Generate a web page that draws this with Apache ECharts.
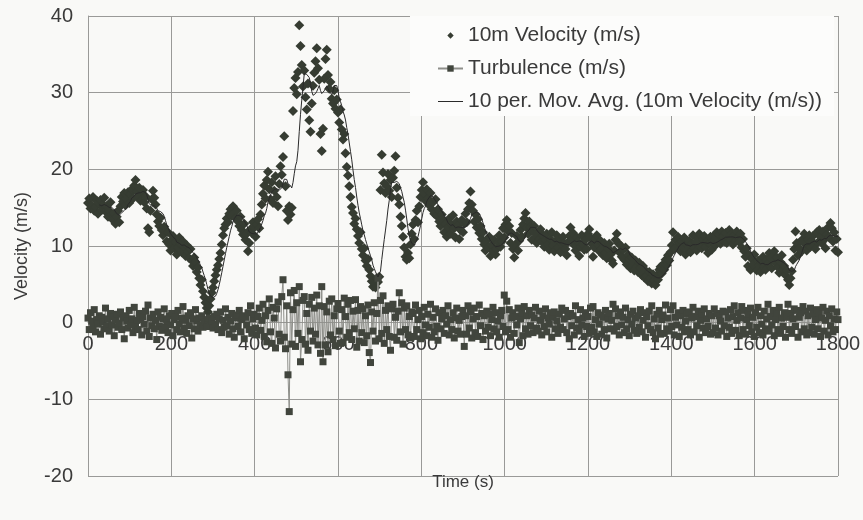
<!DOCTYPE html>
<html>
<head>
<meta charset="utf-8">
<script src="https://cdn.jsdelivr.net/npm/echarts@6/dist/echarts.min.js"></script>
<style>
html,body{margin:0;padding:0;background:#f9f9f7;}
#chart{width:863px;height:520px;}
</style>
</head>
<body>
<div id="chart"></div>
<script>
// Sample times (s), one reading every 3 s from 0 to 1800
const startTime = 0, endTime = 1800, sampleStep = 3;

// 10m Velocity (m/s) (one row = 60 s)
const velocity = [
15.6,16.2,14.9,15.3,16.4,14.6,15.1,15.9,14.2,15.5,16.0,14.7,15.4,16.3,14.5,15.2,13.8,14.6,15.7,14.1,
13.4,14.2,12.9,13.8,14.6,13.1,15.2,16.4,15.8,16.9,15.3,16.1,17.0,15.6,16.8,17.4,16.2,17.9,18.6,17.1,
16.4,17.6,15.9,16.8,17.3,15.7,16.5,14.9,12.3,11.8,14.6,16.1,17.2,16.3,15.4,14.1,13.2,12.6,13.7,12.1,
11.4,12.5,11.9,10.6,11.8,10.2,9.4,10.8,11.3,9.7,10.5,8.9,9.8,11.1,10.3,9.2,10.6,9.9,8.7,10.1,
9.3,8.4,9.6,8.1,7.4,8.5,7.9,6.6,7.2,5.8,4.9,5.6,4.1,3.3,2.6,1.9,1.4,2.2,3.1,3.9,
4.6,5.4,6.2,6.9,7.5,8.3,9.1,10.2,11.4,12.3,12.8,13.6,13.1,14.2,14.8,13.9,15.2,14.4,13.7,14.6,
13.2,12.6,13.8,12.1,11.5,12.9,10.8,11.6,9.3,10.4,12.2,11.7,13.1,12.4,11.2,12.8,13.5,12.3,14.1,15.4,
16.8,17.9,16.2,18.6,19.7,17.4,16.1,18.3,15.6,17.2,19.1,16.4,15.2,18.1,20.4,19.3,21.6,24.3,17.8,14.6,
13.4,15.2,14.1,15.0,27.6,30.6,31.9,29.8,32.7,38.8,36.1,33.6,30.8,32.9,29.4,27.8,31.2,26.4,24.9,28.6,
30.9,32.6,34.1,35.8,33.2,31.7,24.6,22.4,25.3,31.8,34.4,35.6,32.3,30.5,31.4,29.2,28.6,30.3,27.9,29.1,
27.4,26.1,27.8,25.2,23.9,24.6,22.1,20.3,19.2,17.8,16.4,15.1,14.3,12.9,13.6,12.2,11.3,10.4,11.8,9.6,
8.8,9.7,8.1,7.4,8.3,6.9,6.1,5.4,4.7,5.2,4.6,5.8,5.3,6.0,17.3,21.9,19.6,18.2,16.9,17.8,
19.4,17.2,18.6,16.4,18.9,19.8,21.7,17.6,16.3,15.4,13.8,12.6,11.2,9.8,8.6,8.2,9.1,8.4,10.2,11.6,
12.8,10.9,13.4,14.6,13.1,15.2,16.4,17.3,18.3,16.8,15.9,17.4,16.2,15.3,16.9,14.8,15.7,14.2,16.1,13.9,
14.8,13.2,12.6,14.1,13.4,11.8,12.9,11.2,12.4,13.6,11.6,12.8,14.0,12.3,11.1,13.2,12.7,10.9,12.1,13.4,
11.8,12.9,14.2,13.1,14.8,15.6,17.1,15.4,14.6,13.2,14.1,12.4,13.5,11.7,12.6,10.9,11.8,10.2,9.4,10.7,
9.8,11.2,8.7,10.1,9.3,10.8,8.9,9.6,10.5,11.4,9.9,10.6,12.3,11.1,12.8,13.4,11.9,12.6,10.4,11.7,
9.6,8.5,10.2,11.3,9.4,10.7,12.1,11.2,12.8,13.6,14.3,12.4,11.6,13.2,12.5,10.8,11.9,12.6,11.1,10.4,
11.7,10.9,12.2,10.6,11.4,9.9,10.8,11.6,10.2,9.5,10.9,11.8,10.1,9.3,10.6,11.4,9.8,10.7,9.2,10.3,
11.2,10.4,9.6,8.8,10.5,11.3,12.4,10.8,11.7,10.1,9.4,11.1,10.6,8.7,9.9,11.4,10.2,9.5,10.8,9.6,
11.6,12.2,11.1,10.3,8.6,9.8,10.9,11.4,10.2,9.3,10.7,9.6,8.8,10.4,9.1,8.4,9.7,10.3,8.9,8.1,
7.7,9.4,10.8,11.6,10.4,9.2,10.1,8.6,9.5,8.2,9.8,7.6,8.9,8.3,7.1,8.5,7.9,6.8,8.1,7.3,
6.6,7.8,7.1,6.2,7.4,5.9,6.8,6.1,5.4,6.6,5.8,5.1,6.3,5.5,4.9,6.2,5.6,6.9,7.3,6.4,
7.6,6.9,8.2,7.5,8.8,8.1,9.2,10.1,11.8,9.6,10.8,9.9,11.2,10.4,9.3,10.6,9.8,11.1,8.9,10.2,
9.6,10.7,9.2,10.3,11.4,9.8,10.5,9.4,10.9,11.6,10.2,9.7,10.8,11.3,9.9,10.6,9.1,10.4,11.2,9.5,
10.6,11.4,10.1,11.8,10.9,11.5,10.3,11.9,11.2,10.6,11.7,10.4,11.3,12.1,10.8,11.6,10.2,11.4,10.7,11.9,
11.1,10.5,11.6,9.8,10.9,9.3,8.6,9.7,7.4,8.8,6.9,8.3,7.6,8.9,7.2,6.8,8.1,7.5,6.6,7.9,
8.6,7.3,6.9,8.2,7.7,9.1,8.4,7.1,8.7,9.3,7.8,8.5,7.2,6.5,7.9,8.8,6.9,7.4,6.2,6.8,
5.6,4.9,5.8,6.7,8.2,9.6,11.9,10.4,8.8,9.7,10.6,9.3,10.9,11.6,10.2,9.4,10.8,11.4,9.9,10.7,
11.3,10.1,9.6,11.8,10.5,12.1,11.2,10.4,11.9,10.8,9.7,11.5,12.4,11.1,13.0,12.3,10.6,11.8,9.4,10.9,
9.2
];

// Turbulence (m/s) (one row = 60 s)
const turbulence = [
0.6,-0.9,1.3,0.2,-0.5,1.7,-1.2,0.4,-0.2,0.9,-1.5,0.7,0.1,-0.8,1.9,-0.4,0.5,-1.1,1.2,-0.3,
0.8,-1.7,0.3,1.1,-0.6,-0.1,1.4,-0.9,0.6,-2.1,0.9,0.2,-0.7,1.6,-0.3,0.5,-1.3,2.0,-0.5,0.3,
-0.9,1.2,0.4,-1.6,0.8,-0.2,1.5,-1.1,2.3,-1.8,0.6,-0.4,1.1,-0.8,0.3,-2.2,1.4,-0.5,0.7,-1.0,
0.5,1.8,-0.6,0.2,-1.3,0.9,-0.3,1.2,-1.7,0.4,0.8,-0.9,1.6,-0.2,-1.2,0.6,2.1,-0.7,0.3,-1.4,
0.9,-0.4,1.3,-2.0,0.5,-0.8,1.7,0.2,-1.1,0.6,-0.3,0.9,-0.6,0.4,0.1,-0.5,0.3,0.6,-0.4,0.2,
-0.7,0.8,-0.2,1.1,-0.9,0.5,1.4,-1.3,0.3,-0.6,1.8,-0.4,0.7,-1.5,0.2,1.2,-0.8,-1.9,0.6,1.0,
-0.5,1.6,-1.2,0.4,0.9,-2.1,0.7,-0.3,1.3,-0.9,2.2,-1.4,0.5,1.1,-0.7,-1.6,0.8,1.9,-1.0,0.3,
2.4,-1.8,0.9,-2.5,1.6,3.1,-1.2,-2.7,2.0,0.6,-3.3,1.8,2.7,-1.5,-2.4,3.4,5.6,-1.9,-3.4,2.2,
-6.8,-11.6,3.9,-2.8,1.7,4.2,-3.1,2.6,-1.4,4.7,-5.1,-2.2,2.9,3.4,-2.8,1.2,-3.6,2.4,-1.1,3.3,
-2.4,1.9,-1.5,3.6,-2.9,2.2,-4.0,4.7,-5.1,2.1,-2.9,1.4,-3.8,2.8,-1.6,3.1,-2.2,0.9,-3.0,1.8,
2.5,-1.1,-2.7,1.7,-2.6,3.2,0.8,-1.9,2.4,-1.3,2.9,-2.2,1.5,-0.8,3.0,-3.2,1.6,-2.4,2.1,-1.3,
1.8,-2.6,0.9,-1.7,2.3,-3.9,-5.2,1.4,-1.1,2.6,-2.4,1.2,5.8,-2.1,2.9,-1.4,3.5,-2.7,1.6,-0.9,
2.2,-1.8,-3.6,1.8,2.4,-1.9,0.7,-2.3,1.5,3.9,-1.2,2.6,-2.8,1.9,-0.9,2.2,-1.6,0.8,-2.0,1.4,
1.2,-1.8,2.3,-0.9,0.4,1.6,-2.1,0.8,-1.3,2.0,-0.3,-1.7,1.1,-0.6,2.4,-1.9,0.7,-1.2,1.8,-0.5,
-2.3,1.3,-0.8,0.5,1.6,-1.4,0.9,-0.2,2.2,-1.6,0.4,-0.9,1.3,-2.0,0.6,1.9,-1.1,0.3,-1.5,0.8,
1.6,-3.1,0.9,-1.5,2.2,-0.7,1.4,-2.0,0.5,1.9,-1.3,0.8,-1.8,2.3,-0.4,1.2,-2.2,0.9,-1.1,1.5,
-0.6,1.1,-1.7,0.4,2.0,-0.8,1.3,-1.2,0.2,-1.9,0.9,1.6,-0.5,3.6,-1.2,2.8,-0.9,1.7,-1.9,0.6,
1.3,-1.4,0.8,-0.3,1.9,-2.6,0.5,1.2,-1.7,2.1,-0.8,0.9,-1.5,1.6,-0.4,1.0,-1.3,0.6,2.0,-0.7,
-1.1,1.5,0.3,-1.6,0.9,-0.5,1.8,-1.2,0.6,-0.2,1.3,-1.9,0.7,1.4,-0.8,0.2,-1.4,1.1,-0.6,1.9,
-0.9,0.5,1.6,-1.3,0.8,-2.1,1.2,-0.4,0.9,-1.6,2.2,-0.7,0.4,-1.1,1.7,-0.3,0.6,-1.8,1.3,-0.5,
0.8,-1.4,1.9,-0.6,2.1,-1.2,0.4,-1.8,1.3,-0.2,1.0,-1.5,0.7,-0.9,1.6,-2.0,0.5,1.2,-0.8,0.3,
2.4,-1.1,1.8,-0.5,0.9,-1.6,1.4,-0.3,0.7,-1.3,1.9,-0.8,0.4,-1.7,1.1,-0.2,1.5,-1.0,0.6,-1.4,
0.9,-0.6,1.7,-1.2,0.3,1.3,-1.9,0.8,-0.4,1.5,-0.9,2.2,-1.3,0.5,-2.1,1.1,-0.7,1.6,-1.5,0.4,
1.0,-1.4,2.3,-0.8,0.6,-1.1,1.7,-0.5,2.2,-1.6,0.7,-0.3,1.3,-1.8,0.9,-0.6,1.6,-1.2,0.2,1.1,
-0.9,1.4,-1.6,0.6,2.0,-1.2,0.8,-0.4,1.5,-1.9,0.3,1.1,-0.7,1.8,-1.3,0.5,-0.5,1.2,-1.5,0.9,
-1.3,1.8,-0.7,1.2,-1.6,0.9,0.2,-1.1,1.5,-0.4,1.4,-1.8,0.6,-0.6,1.7,-1.4,0.8,2.2,-1.0,0.3,
1.3,-1.7,0.6,2.1,-0.9,1.6,-1.5,0.4,1.1,-0.4,1.9,-1.2,0.7,-1.8,1.3,-0.6,2.0,-1.3,0.9,-0.2,
-1.6,1.5,-0.8,0.5,2.4,-1.1,0.8,-0.3,1.6,-1.7,0.4,1.2,-0.9,2.0,-1.4,0.6,-0.5,1.3,-1.9,0.7,
2.4,-0.9,1.2,-1.4,0.5,1.8,-0.5,1.6,-1.9,0.7,1.3,-1.2,2.1,-0.8,1.5,-1.6,0.9,-1.3,1.9,-0.6,
1.1,-1.5,0.4,1.7,-0.8,1.2,-1.8,0.6,2.0,-1.1,0.3,1.5,-1.6,0.9,-0.4,1.8,-1.2,0.5,-0.9,1.4,
0.4
];

const seriesNames = ['10m Velocity (m/s)', 'Turbulence (m/s)', '10 per. Mov. Avg. (10m Velocity (m/s))'];
const movingAvgPeriod = 10;
const xTicks = {min: 0, max: 1800, interval: 200};
const yTicks = {min: -20, max: 40, interval: 10};

// build library data from the arrays
const time = [];
for (let t = startTime; t <= endTime; t += sampleStep) time.push(t);
const velData = time.map((t, i) => [t, velocity[i]]);
const turbData = time.map((t, i) => [t, turbulence[i]]);
const maData = [];
for (let i = movingAvgPeriod - 1; i < velocity.length; i++) {
  let s = 0;
  for (let k = i - movingAvgPeriod + 1; k <= i; k++) s += velocity[k];
  maData.push([time[i], +(s / movingAvgPeriod).toFixed(2)]);
}

const W = 863, H = 520;
const gridTop = 16, gridBottom = 44;
const plotH = H - gridTop - gridBottom;
// position of the x axis (value 0 of the y axis), measured from the grid bottom
const zeroOffset = -plotH * (0 - yTicks.min) / (yTicks.max - yTicks.min);

const chart = echarts.init(document.getElementById('chart'), null, {renderer: 'canvas'});
const textColor = '#3a3a3a';
const gridColor = '#9a9a98';
const lineIcon = 'path://M0 0L0.01 0L0.01 0.01Z M0 3.4L25 3.4L25 4.6L0 4.6Z M0 8L0.01 8L0.01 7.99Z';
chart.setOption({
  backgroundColor: '#f9f9f7',
  animation: false,
  textStyle: {fontFamily: 'Liberation Sans, Arial, sans-serif'},
  grid: {left: 88, right: 25, top: gridTop, bottom: gridBottom, containLabel: false, outerBoundsMode: 'none'},
  legend: {
    orient: 'vertical',
    left: 410, top: 16,
    padding: [9, 12, 4, 27],
    itemWidth: 25, itemHeight: 8, itemGap: 12,
    backgroundColor: '#fcfcfb',
    textStyle: {fontSize: 21, color: textColor, lineHeight: 20},
    data: [
      {name: seriesNames[0]},
      {name: seriesNames[1]},
      {name: seriesNames[2], icon: lineIcon}
    ]
  },
  xAxis: {
    type: 'value', min: xTicks.min, max: xTicks.max, interval: xTicks.interval,
    offset: zeroOffset,
    axisLine: {onZero: false, lineStyle: {color: gridColor}},
    axisTick: {show: false},
    axisLabel: {fontSize: 20, color: textColor, margin: 12, formatter: v => String(v)},
    splitLine: {show: true, lineStyle: {color: gridColor, width: 1}},
    name: 'Time (s)', nameLocation: 'middle', nameGap: 151,
    nameTextStyle: {fontSize: 17, color: textColor}
  },
  yAxis: {
    type: 'value', min: yTicks.min, max: yTicks.max, interval: yTicks.interval,
    axisLine: {show: true, onZero: false, lineStyle: {color: gridColor}},
    axisTick: {show: false},
    axisLabel: {fontSize: 20, color: textColor, margin: 15, formatter: v => String(v)},
    splitLine: {show: true, lineStyle: {color: gridColor, width: 1}},
    name: 'Velocity (m/s)', nameLocation: 'middle', nameGap: 57, nameRotate: 90,
    nameTextStyle: {fontSize: 18, color: textColor}
  },
  series: [
    {
      name: seriesNames[0], type: 'line', data: velData,
      symbol: 'diamond', symbolSize: 10, showSymbol: true,
      lineStyle: {width: 0, opacity: 0},
      itemStyle: {color: '#363c32'},
      silent: true, z: 2
    },
    {
      name: seriesNames[1], type: 'line', data: turbData,
      symbol: 'rect', symbolSize: 7, showSymbol: true,
      lineStyle: {color: '#8e8f8a', width: 1},
      itemStyle: {color: '#41453d'},
      silent: true, z: 3
    },
    {
      name: seriesNames[2], type: 'line', data: maData,
      symbol: 'none',
      lineStyle: {color: '#2a2a2a', width: 1},
      itemStyle: {color: '#2a2a2a'},
      silent: true, z: 4
    }
  ]
});
</script>
</body>
</html>
